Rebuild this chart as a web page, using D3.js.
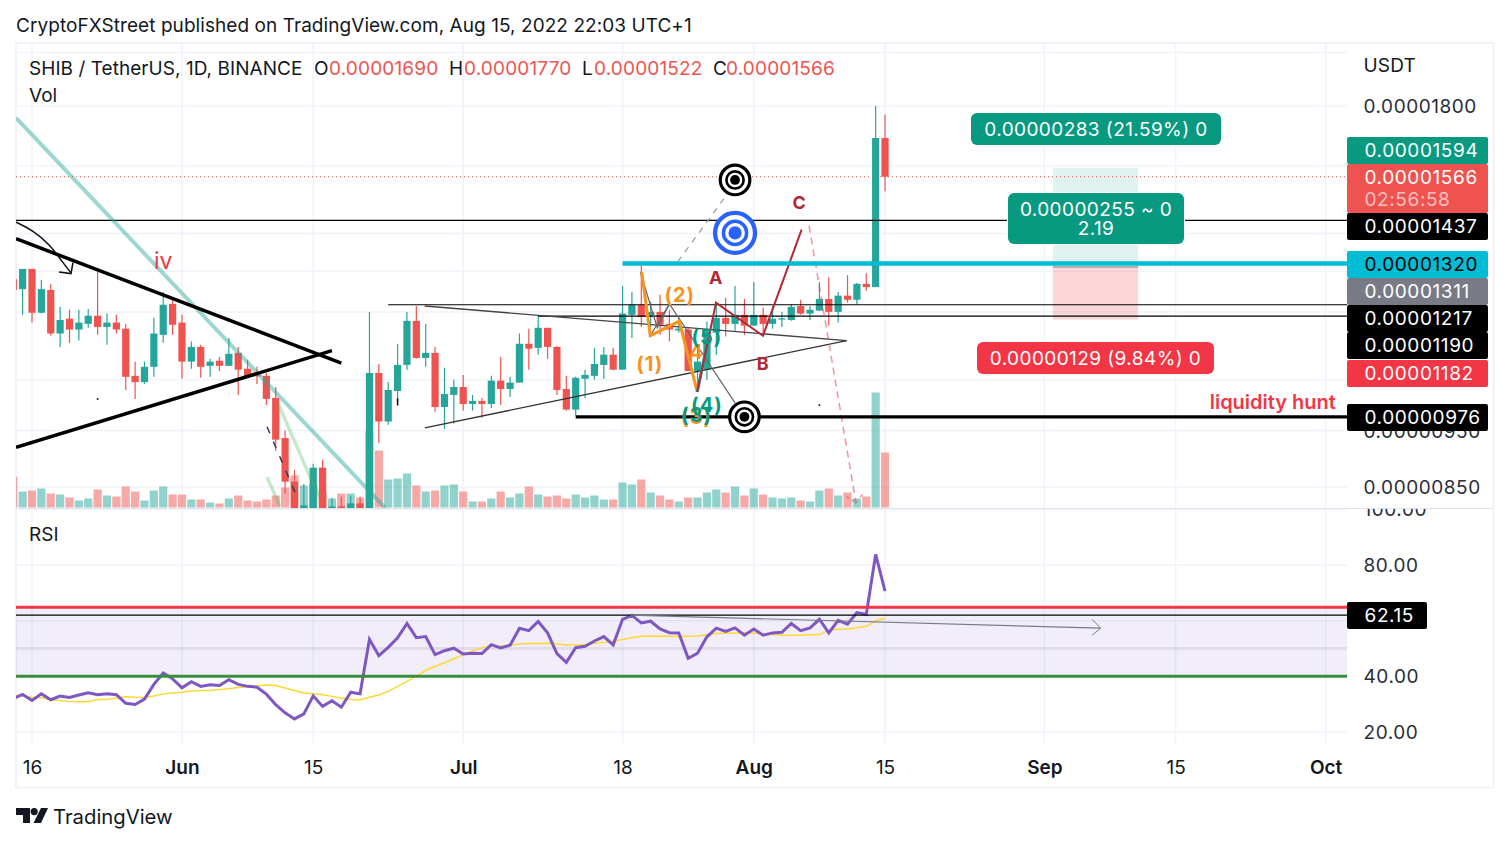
<!DOCTYPE html>
<html>
<head>
<meta charset="utf-8">
<title>SHIB / TetherUS</title>
<script src="https://cdnjs.cloudflare.com/ajax/libs/d3/7.8.5/d3.min.js"></script>
<style>
html,body{margin:0;padding:0;background:#fff;}
svg{display:block;}
text{font-family:Inter,"Noto Sans",sans-serif;fill:#131722;}
</style>
</head>
<body>
<div id="chart"></div>
<script>
// bars run from day -2 to day 91, day 0 = 16 May 2022. prices are in 1e-8 USDT
var firstDay = -2;
var opens = [1280,1255,1306,1198,1253,1150,1184,1159,1172,1191,1165,1175,1161,1058,1045,1077,1147,1219,1175,1088,1120,1079,1090,1079,1107,1073,1060,1058,1013,936,859,812,812,883,815,818,812,823,812,1064,967,1027,1081,1179,1096,1107,995,1019,1035,1001,1007,1001,1048,1031,1044,1127,1118,1163,1120,1031,990,1052,1058,1081,1103,1071,1193,1217,1191,1200,1172,1157,1159,1068,1071,1152,1186,1172,1193,1168,1193,1172,1182,1181,1214,1196,1203,1231,1200,1239,1229,1268,1260,1690];
var highs = [1290,1306,1306,1278,1268,1212,1205,1205,1207,1298,1196,1193,1172,1088,1088,1186,1248,1234,1193,1132,1125,1094,1098,1140,1120,1092,1077,1064,1035,950,879,855,890,897,832,834,836,834,1200,1083,1045,1127,1200,1214,1172,1120,1075,1050,1060,1019,1013,1058,1098,1056,1150,1161,1191,1163,1122,1058,1056,1071,1118,1120,1118,1263,1248,1314,1224,1241,1205,1186,1165,1125,1177,1217,1234,1263,1231,1273,1210,1214,1200,1219,1229,1214,1273,1285,1248,1290,1270,1295,1800,1770];
var lows = [1241,1193,1175,1196,1145,1120,1129,1134,1163,1147,1125,1150,1029,1011,1041,1056,1129,1147,1052,1073,1054,1056,1068,1079,1019,1056,1041,999,913,839,805,800,805,805,805,805,805,805,805,927,961,1005,1071,1094,1077,986,953,963,988,988,974,993,999,1015,1044,1071,1103,1094,1019,988,978,1013,1050,1052,1069,1071,1140,1165,1165,1147,1132,1152,1068,1029,1050,1103,1143,1156,1147,1168,1152,1161,1165,1179,1193,1181,1203,1168,1175,1222,1217,1251,1260,1522];
var closes = [1253,1306,1198,1255,1150,1181,1159,1175,1191,1165,1175,1159,1056,1045,1077,1150,1217,1170,1088,1120,1077,1088,1079,1105,1071,1056,1057,1011,933,859,815,820,883,812,818,815,823,812,1064,967,1029,1081,1179,1096,1107,995,1021,1035,1001,1007,1001,1048,1031,1044,1127,1116,1163,1120,1029,990,1054,1060,1083,1103,1071,1196,1217,1188,1200,1170,1159,1161,1068,1088,1154,1186,1172,1193,1168,1193,1172,1184,1185,1212,1196,1205,1231,1200,1239,1229,1268,1260,1690,1566];
var volumes = [31,16,17,19,14,13,10,7,9,18,12,11,21,16,7,17,21,13,13,8,8,5,4,9,12,7,6,8,12,20,32,22,23,15,9,14,14,10,76,57,28,29,34,22,16,17,22,23,16,6,6,9,16,10,14,21,13,11,12,9,13,10,12,8,8,25,23,28,15,12,8,6,10,10,15,18,15,21,12,19,13,10,9,10,7,6,17,19,12,15,9,11,115,55];
var rsiValues = [32,33.5,31.3,33.7,31.6,32.9,32.4,33.3,34.1,33.4,33.7,33.4,30.3,29.9,31.8,37.1,41.2,39.1,35.9,38.1,36.4,37,36.7,38.8,37.1,36.4,36.1,33.6,29.8,26.9,24.7,26.5,33,29.2,31.2,28.9,34.3,33.7,53.3,47.4,50.4,53.8,59,53.9,54.3,47.8,49.2,50.1,48,48.3,48.2,51.4,50.2,51.2,57.3,56.4,59.7,55.6,48.2,45,50.3,50.8,52.7,54.3,51.3,60.5,61.9,59.2,59.8,57,55.7,55.6,46.5,48.3,54.2,57.3,56.1,57.4,54.8,57,54.8,55.6,55.8,59,56.4,57.4,60.5,55.6,60.1,58.7,62.9,62.2,83.8,70.6];
var rsiAverage = [33.3,32.9,32.5,32.3,31.6,31.3,31,30.9,30.9,31.7,31.7,32.2,32.7,32.5,32.4,32.9,33.7,34,34.3,34.7,34.9,35,35.3,35.5,36,36.3,36.5,36.9,36.7,35.8,34.9,34,33.7,33.4,32.8,32.2,31.7,31.5,32.5,33.3,34.6,36.4,38.2,40,42.1,43.6,44.9,46.3,47.8,49.1,50.3,51,50.8,51.2,51.6,51.8,51.8,51.9,51.6,51.3,51.3,51.4,51.9,52.2,52.6,53.2,53.9,54.4,54.4,54.5,54.4,54.3,54.4,54.5,54.9,55.4,55.5,55.6,55.7,55.6,55.2,55,54.8,54.8,54.8,54.9,55,56.6,56.9,57,57.5,57.9,60,60.9];

var timeTicks = [0,16,30,46,63,77,91,108,122,138];
var timeLabels = ["16","Jun","15","Jul","18","Aug","15","Sep","15","Oct"];
var boldTimeLabels = ["Jun","Jul","Aug","Sep","Oct"];
var priceGrid = [2000,1800,1600,1400,1300,1200,1050,950,850];
var priceLabels = [1800,950,850];
var rsiGrid = [100,80,60,40,20];
var rsiLabels = [100,80,40,20];

// price levels drawn on the chart
var lastPrice = 1566, levelA = 1437, levelCyan = 1320, entry = 1311, levelB = 1217, levelC = 1190, stop = 1182, target = 1594, levelLow = 976;
var positionDays = [108.9,118];
var rsiHigh = 64.8, rsiMid = 50, rsiLow = 40, rsiLast = 62;

// drawings, each point is [day, price]
var paleTeal = [[-1.7,1758],[37.66,816]];
var paleGreenA = [[25.07,867],[26.46,818]];
var paleGreenB = [[26.24,1003],[29.66,867],[30.7,834]];
var wedgeUpper = [[-1.7,1386],[33,1085]];
var wedgeLower = [[-1.7,919],[32,1112]];
var curvedArrow = [[-1.7,1432],[0.1,1409],[1.92,1370],[3.3,1322],[4.16,1296]];
var curvedHead = [[2.88,1298],[4.16,1294],[4.37,1322]];
var darkDashes = [[25.07,957],[28.4,829]];
var triUpper = [[41.9,1214],[86.9,1134]];
var triLower = [[41.9,955],[86.9,1134]];
var orangeWave = [[65.04,1298],[65.96,1145],[69.05,1178],[70.97,1025]];
var tealWave = [[70.97,1025],[72,1125]];
var abcWave = [[70.97,1025],[72.97,1222],[77.98,1145],[82.1,1411]];
var greyPathA = [[64.9,1298],[66.7,1163],[68,1219],[75,1003]];
var greyPathB = [[65.96,1145],[68,1219]];
var greyDashed = [[68.9,1325],[74.5,1526]];
var pinkDashed = [[82.9,1422],[87.9,824],[88.6,838]];
var pinkTick = [[86.9,834],[87.9,824]];
var specks = [[7,1011],[84,999]];
var stub = [[39,1012],[39,998]];
// targets: [day, price]
var blackTargets = [[75,1556],[76,976]];
var blueTarget = [75,1402];
// labels: [text, day, price]
var orangeLabels = [["(1)",65.9,1083],["(2)",69.1,1241],["4",70.9,1109],["(3)",70.9,976]];
var tealLabels = [["(3)",70.9,980],["(4)",72,999],["(5)",72,1143]];
var redLabels = [["A",73,1285],["B",78,1083],["C",81.9,1487]];
// rsi pane trend arrow: [day, rsi]
var rsiTrend = [[63.8,62],[114,57.3]];
var rsiHead = [[113.1,60.5],[114,57.3],[113.1,54.8]];

var W = 1510, H = 844;
var left = 16, right = 1347, frameR = 1493.5, priceTop = 44, priceBot = 508, rsiBot = 743, frameT = 43, frameB = 787.5;
var green = "#26a69a", red = "#ef5350", badgeGreen = "#089981", badgeRed = "#f23645", cyan = "#00bcd4";

var svg = d3.select("#chart").append("svg").attr("width",W).attr("height",H);
var defs = svg.append("defs");
defs.append("clipPath").attr("id","pricePane").append("rect").attr("x",left).attr("y",priceTop).attr("width",right-left).attr("height",priceBot-priceTop);
defs.append("clipPath").attr("id","rsiPane").append("rect").attr("x",left).attr("y",priceBot).attr("width",right-left).attr("height",rsiBot-priceBot);
defs.append("clipPath").attr("id","rsiAxisClip").append("rect").attr("x",right).attr("y",priceBot+1).attr("width",140).attr("height",rsiBot-priceBot);

var x = d3.scaleLinear().domain([0,138]).range([32,1325.6]);
var y = d3.scaleLog().domain([850,1800]).range([487,106]);
var yVol = d3.scaleLinear().domain([0,116]).range([507.5,391.5]);
var yRsi = d3.scaleLinear().domain([80,20]).range([565,732]);

var days = d3.range(opens.length).map(function(i){ return firstDay+i; });
var line = d3.line().x(function(d){ return x(d[0]); }).y(function(d){ return y(d[1]); });
var lineRsi = d3.line().x(function(d){ return x(d[0]); }).y(function(d){ return yRsi(d[1]); });

// header
svg.append("text").attr("x",16).attr("y",32).attr("font-size",19).attr("letter-spacing",0.06).text("CryptoFXStreet published on TradingView.com, Aug 15, 2022 22:03 UTC+1");

// frame
svg.append("rect").attr("x",left).attr("y",frameT).attr("width",frameR-left).attr("height",frameB-frameT).attr("fill","none").attr("stroke","#f0f3fa").attr("stroke-width",2);

// grid
var grid = svg.append("g").attr("stroke","#f0f3fa").attr("stroke-width",1.5);
grid.selectAll("line.v").data(timeTicks).enter().append("line").attr("x1",function(d){return x(d);}).attr("x2",function(d){return x(d);}).attr("y1",frameT).attr("y2",rsiBot);
grid.selectAll("line.p").data(priceGrid).enter().append("line").attr("x1",left).attr("x2",right).attr("y1",function(d){return y(d);}).attr("y2",function(d){return y(d);});
grid.selectAll("line.r").data(rsiGrid).enter().append("line").attr("x1",left).attr("x2",right).attr("y1",function(d){return yRsi(d);}).attr("y2",function(d){return yRsi(d);});

svg.append("line").attr("x1",left).attr("x2",frameR).attr("y1",priceBot+0.5).attr("y2",priceBot+0.5).attr("stroke","#e0e3eb");

// price pane
var price = svg.append("g").attr("clip-path","url(#pricePane)");

// position tool
price.append("rect").attr("x",x(positionDays[0])).attr("width",x(positionDays[1])-x(positionDays[0])).attr("y",y(target)).attr("height",y(entry)-y(target)).attr("fill","rgba(8,153,129,0.12)");
price.append("rect").attr("x",x(positionDays[0])).attr("width",x(positionDays[1])-x(positionDays[0])).attr("y",y(entry)).attr("height",y(stop)-y(entry)).attr("fill","rgba(242,54,69,0.2)");
price.append("line").attr("x1",x(positionDays[0])).attr("x2",x(positionDays[1])).attr("y1",y(entry)).attr("y2",y(entry)).attr("stroke","#787b86");

// volume
price.selectAll("rect.vol").data(volumes).enter().append("rect")
    .attr("x",function(d,i){ return x(days[i])-4.1; })
    .attr("width",8.2)
    .attr("y",function(d){ return yVol(d); })
    .attr("height",function(d){ return yVol(0)-yVol(d); })
    .attr("fill",function(d,i){ return closes[i]>=opens[i] ? "rgba(38,166,154,0.5)" : "rgba(239,83,80,0.5)"; });

// level lines
function hline(day,val,color,w,dash){
    return price.append("line").attr("x1",day===null?left:x(day)).attr("x2",right).attr("y1",y(val)).attr("y2",y(val))
        .attr("stroke",color).attr("stroke-width",w).attr("stroke-dasharray",dash||null);
}
hline(null,lastPrice,red,1,"1 3");

// wicks and bodies
price.selectAll("line.wick").data(days).enter().append("line")
    .attr("x1",function(d){ return x(d); }).attr("x2",function(d){ return x(d); })
    .attr("y1",function(d,i){ return y(highs[i]); }).attr("y2",function(d,i){ return y(lows[i]); })
    .attr("stroke-width",1.2)
    .attr("stroke",function(d,i){ return closes[i]>=opens[i] ? green : red; });
price.selectAll("rect.body").data(days).enter().append("rect")
    .attr("x",function(d){ return x(d)-3.6; }).attr("width",7.2)
    .attr("y",function(d,i){ return y(Math.max(opens[i],closes[i])); })
    .attr("height",function(d,i){ return Math.max(1,Math.abs(y(opens[i])-y(closes[i]))); })
    .attr("fill",function(d,i){ return closes[i]>=opens[i] ? green : red; });

// drawings
function path(pts,color,w,dash){
    return price.append("path").attr("d",line(pts)).attr("fill","none").attr("stroke",color).attr("stroke-width",w).attr("stroke-dasharray",dash||null).attr("stroke-linejoin","miter");
}
hline(null,levelA,"#000",1.2);
hline(38,levelB,"#000",1.2);
hline(54,levelC,"#000",1.2);
path(paleTeal,"rgba(38,166,154,0.45)",4);
path(paleGreenA,"rgba(76,175,80,0.3)",3.5);
path(paleGreenB,"rgba(76,175,80,0.3)",3.5);
path(wedgeUpper,"#000",3.5);
path(wedgeLower,"#000",3.5);
price.append("path").attr("d",d3.line().curve(d3.curveBasis).x(function(d){return x(d[0]);}).y(function(d){return y(d[1]);})(curvedArrow)).attr("fill","none").attr("stroke","#111").attr("stroke-width",1.5);
path(curvedHead,"#111",1.5);
path(darkDashes,"#3a3a4a",1.5,"7 9");
path(triUpper,"#444",1.4);
path(triLower,"#333",1.4);
path(greyDashed,"#9598a1",1.2,"6 6");
path(greyPathA,"#666",1.2);
path(greyPathB,"#666",1.2);
path(orangeWave,"#f7931e",3);
path(tealWave,"#26a69a",3);
path(abcWave,"#b22833",2);
path(pinkDashed,"rgba(242,54,69,0.55)",1.5,"7 5");
path(pinkTick,"rgba(242,54,69,0.55)",1.5,"3 3");
path(stub,"#000",1.5);
price.selectAll("circle.speck").data(specks).enter().append("circle").attr("cx",function(d){return x(d[0]);}).attr("cy",function(d){return y(d[1]);}).attr("r",1).attr("fill","#222");

hline(63,levelCyan,cyan,4.5);
hline(58,levelLow,"#000",3.2);

// target icons
function targetIcon(pt,color,big){
    var g = price.append("g").attr("transform","translate("+x(pt[0])+","+y(pt[1])+")");
    var k = big ? 1.35 : 1;
    g.append("circle").attr("r",14.8*k).attr("fill","#fff").attr("stroke",color).attr("stroke-width",3.2*k);
    g.append("circle").attr("r",8.6*k).attr("fill","#fff").attr("stroke",color).attr("stroke-width",2.6*k);
    g.append("circle").attr("r",4.9*k).attr("fill",color);
}
blackTargets.forEach(function(p){ targetIcon(p,"#000",false); });
targetIcon(blueTarget,"#2962ff",true);

// wave labels
function waveLabels(list,color,size,weight){
    price.selectAll(null).data(list).enter().append("text")
        .attr("x",function(d){ return x(d[1]); }).attr("y",function(d){ return y(d[2])+size*0.36; })
        .attr("text-anchor","middle").attr("font-size",size).attr("font-weight",weight).attr("letter-spacing",1)
        .style("fill",color).text(function(d){ return d[0]; });
}
waveLabels(orangeLabels,"#f7931e",20,700);
waveLabels(tealLabels,"#089981",20,700);
waveLabels(redLabels,"#b22833",18,700);
price.append("text").attr("x",x(14)).attr("y",y(1327)+8).attr("text-anchor","middle").attr("font-size",23).style("fill","#f23645").text("iv");
price.append("text").attr("x",x(139.1)).attr("y",y(1003)+6).attr("text-anchor","end").attr("font-size",20).attr("font-weight",600).style("fill","#f23645").text("liquidity hunt");

// position labels
function infoBox(bx,by,bw,bh,fill,rows){
    var g = svg.append("g");
    g.append("rect").attr("x",bx).attr("y",by).attr("width",bw).attr("height",bh).attr("rx",6).attr("fill",fill).attr("stroke","#fff").attr("stroke-width",2).attr("paint-order","stroke");
    g.selectAll("text").data(rows).enter().append("text")
        .attr("x",bx+bw/2).attr("y",function(d,i){ return by+(rows.length===1?22.5:23)+i*19; })
        .attr("text-anchor","middle").attr("font-size",19).attr("letter-spacing",0.42).style("fill","#fff").text(function(d){return d;});
}
infoBox(971,113,250,32,badgeGreen,["0.00000283 (21.59%) 0"]);
infoBox(1008,193,176,51,badgeGreen,["0.00000255 ~ 0","2.19"]);
infoBox(977,342,237,32,badgeRed,["0.00000129 (9.84%) 0"]);

// legend
var lg = svg.append("g").attr("font-size",19);
lg.append("text").attr("x",29).attr("y",75).attr("letter-spacing",0.05).text("SHIB / TetherUS, 1D, BINANCE");
[["O",314,"0.00001690",329],["H",449,"0.00001770",464],["L",582,"0.00001522",594],["C",713,"0.00001566",726]].forEach(function(d){
    lg.append("text").attr("x",d[1]).attr("y",75).text(d[0]);
    lg.append("text").attr("x",d[3]).attr("y",75).attr("letter-spacing",0.17).style("fill",red).text(d[2]);
});
lg.append("text").attr("x",29).attr("y",102).text("Vol");
lg.append("text").attr("x",29).attr("y",541).text("RSI");

// rsi pane
var rsi = svg.append("g").attr("clip-path","url(#rsiPane)");
rsi.append("rect").attr("x",left).attr("width",right-left).attr("y",yRsi(rsiHigh)).attr("height",yRsi(rsiLow)-yRsi(rsiHigh)).attr("fill","rgba(126,87,194,0.1)");
rsi.append("line").attr("x1",left).attr("x2",right).attr("y1",yRsi(rsiMid)).attr("y2",yRsi(rsiMid)).attr("stroke","rgba(120,123,134,0.15)").attr("stroke-width",3);
rsi.append("path").attr("d",d3.line().x(function(d,i){return x(days[i]);}).y(function(d){return yRsi(d);})(rsiAverage)).attr("fill","none").attr("stroke","#fdd835").attr("stroke-width",1.5);
rsi.append("path").attr("d",d3.line().x(function(d,i){return x(days[i]);}).y(function(d){return yRsi(d);})(rsiValues)).attr("fill","none").attr("stroke","#7e57c2").attr("stroke-width",3);
rsi.append("line").attr("x1",left).attr("x2",right).attr("y1",yRsi(rsiHigh)).attr("y2",yRsi(rsiHigh)).attr("stroke",badgeRed).attr("stroke-width",3);
rsi.append("line").attr("x1",left).attr("x2",right).attr("y1",yRsi(rsiLow)).attr("y2",yRsi(rsiLow)).attr("stroke","#388e3c").attr("stroke-width",3);
rsi.append("line").attr("x1",left).attr("x2",right).attr("y1",yRsi(rsiLast)).attr("y2",yRsi(rsiLast)).attr("stroke","#000").attr("stroke-width",1.2);
rsi.append("path").attr("d",lineRsi(rsiTrend)).attr("fill","none").attr("stroke","#787b86").attr("stroke-width",1.2);
rsi.append("path").attr("d",lineRsi(rsiHead)).attr("fill","none").attr("stroke","#787b86").attr("stroke-width",1);

// axes
function styleAxis(g){
    g.select(".domain").remove();
    g.selectAll("line").remove();
    g.selectAll("text").attr("font-family",null).attr("font-size",19).attr("letter-spacing",0.55).style("fill","#2a2e39");
}
var priceAxis = svg.append("g").attr("transform","translate("+(right+16.5)+",0)")
    .call(d3.axisRight(y).tickValues(priceLabels).tickSize(0).tickPadding(0).tickFormat(function(d){ return (d/1e8).toFixed(8); }));
styleAxis(priceAxis);
priceAxis.selectAll("text").attr("dy","0.35em").style("text-anchor","start");

var rsiAxis = svg.append("g").attr("clip-path","url(#rsiAxisClip)").append("g").attr("transform","translate("+(right+16.5)+",0)")
    .call(d3.axisRight(yRsi).tickValues(rsiLabels).tickSize(0).tickPadding(0).tickFormat(function(d){ return d.toFixed(2); }));
styleAxis(rsiAxis);
rsiAxis.selectAll("text").attr("dy","0.35em");

var timeAxis = svg.append("g").attr("transform","translate(0,767)")
    .call(d3.axisBottom(x).tickValues(timeTicks).tickSize(0).tickPadding(0).tickFormat(function(d,i){ return timeLabels[i]; }));
timeAxis.select(".domain").remove();
timeAxis.selectAll("text").attr("font-family",null).attr("font-size",19).attr("dy","0.35em").attr("y",0).style("fill","#131722")
    .attr("font-weight",function(d,i){ return boldTimeLabels.indexOf(timeLabels[i])>=0 ? 600 : 400; });

svg.append("text").attr("x",1363.5).attr("y",71.5).attr("font-size",19).attr("letter-spacing",0.2).text("USDT");

// axis badges, stacked the way the chart pushes them apart
var badges = [
    {v:target, t:137, b:164, fill:badgeGreen, color:"#fff"},
    {v:lastPrice, t:164, b:213, fill:red, color:"#fff", sub:"02:56:58"},
    {v:levelA, t:213, b:240, fill:"#000", color:"#fff"},
    {v:levelCyan, t:251, b:278, fill:cyan, color:"#000"},
    {v:entry, t:278, b:305, fill:"#787b86", color:"#fff"},
    {v:levelB, t:305, b:332, fill:"#000", color:"#fff"},
    {v:levelC, t:332, b:359, fill:"#000", color:"#fff"},
    {v:stop, t:360, b:387, fill:badgeRed, color:"#fff"},
    {v:levelLow, t:404, b:431, fill:"#000", color:"#fff"}
];
badges.forEach(function(d){
    svg.append("rect").attr("x",right).attr("y",d.t).attr("width",141).attr("height",d.b-d.t).attr("rx",2).attr("fill",d.fill);
    svg.append("text").attr("x",right+17.5).attr("y",d.t+20).attr("font-size",19).attr("letter-spacing",0.6).style("fill",d.color).text((d.v/1e8).toFixed(8));
    if(d.sub) svg.append("text").attr("x",right+17.5).attr("y",d.t+42).attr("font-size",19).attr("letter-spacing",0.6).style("fill","rgba(255,255,255,0.65)").text(d.sub);
});
svg.append("rect").attr("x",right).attr("y",602).attr("width",80).attr("height",27).attr("rx",2).attr("fill","#000");
svg.append("text").attr("x",right+17.5).attr("y",622).attr("font-size",19).attr("letter-spacing",0.6).style("fill","#fff").text("62.15");

// footer logo
var logo = svg.append("g").attr("transform","translate(16,808)").attr("fill","#131722");
logo.append("path").attr("d","M0 0H14V15H7V7H0Z");
logo.append("circle").attr("cx",18.2).attr("cy",3.6).attr("r",3.6);
logo.append("path").attr("d","M25 0H32L25 15H17.5Z");
svg.append("text").attr("x",53).attr("y",823.5).attr("font-size",20.3).text("TradingView");
</script>
</body>
</html>
